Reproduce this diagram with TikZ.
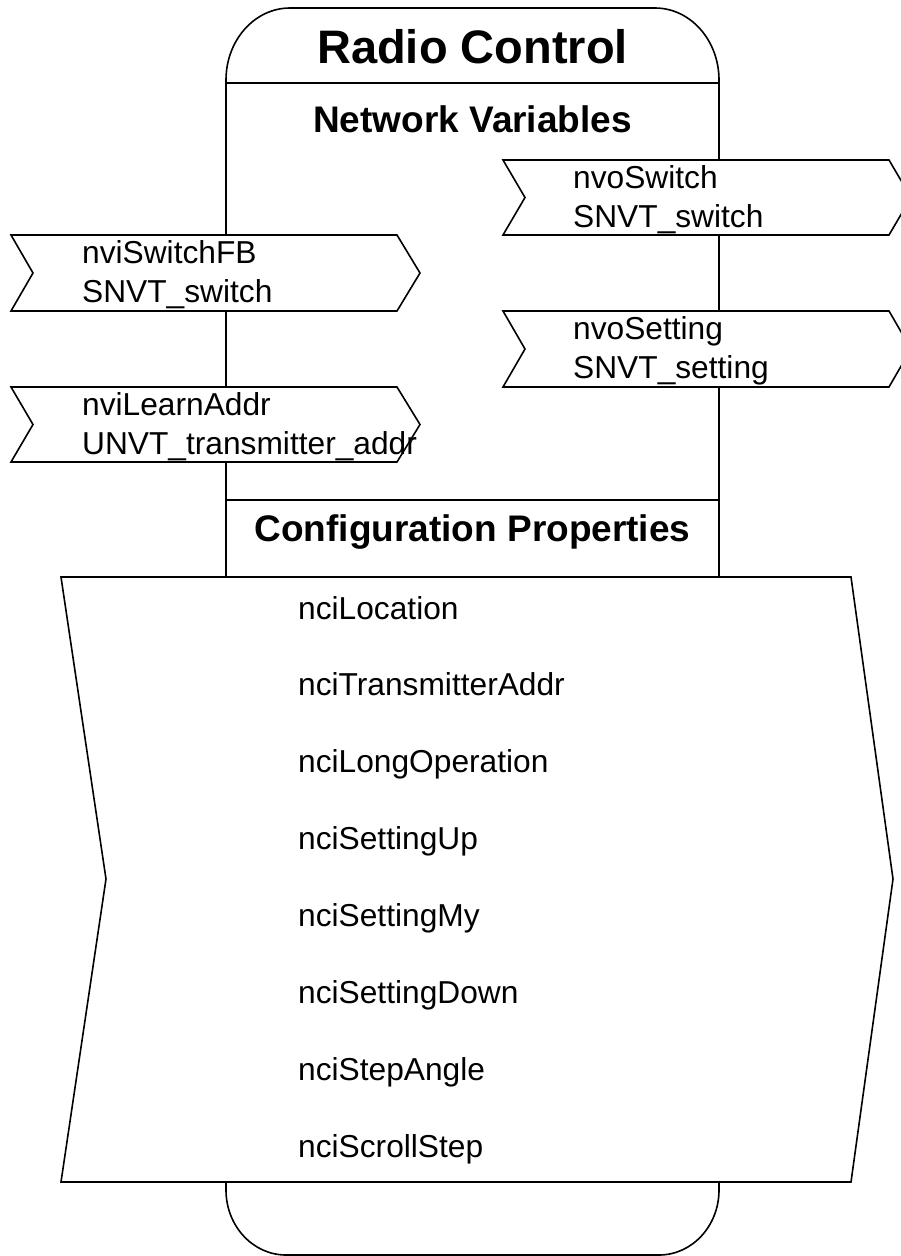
\documentclass[tikz,border=0pt]{standalone}
\usepackage{fontspec}
\setmainfont{Liberation Sans}
\usepackage{tikz}
\usetikzlibrary{positioning}

\tikzset{
  outline/.style={line width=1.6pt},
  nvshape/.style={outline,fill=white},
  title/.style={anchor=base,inner sep=0pt,font=\bfseries\fontsize{47}{56}\selectfont},
  header/.style={anchor=base,inner sep=0pt,font=\bfseries\fontsize{37}{44}\selectfont},
  nvlabel/.style={anchor=base west,align=left,inner sep=0pt,font=\fontsize{31.7}{39}\selectfont},
  cplabel/.style={anchor=base west,inner sep=0pt,font=\fontsize{31.7}{38}\selectfont}
}

\begin{document}
\begin{tikzpicture}[x=1pt,y=1pt]
\useasboundingbox (0,0) rectangle (901,-1256);
% block outline
\draw[outline] (226,-1190) -- (226,-80)
  arc[start angle=180,end angle=90,x radius=64,y radius=72] -- (655,-8)
  arc[start angle=90,end angle=0,x radius=64,y radius=72] -- (719,-1190)
  arc[start angle=0,end angle=-90,x radius=60,y radius=65] -- (286,-1255)
  arc[start angle=270,end angle=180,x radius=60,y radius=65] -- cycle;
\draw[outline] (226,-83) -- (719,-83);
\draw[outline] (226,-500) -- (719,-500);
\node[title] (radio) at (472.5,-63) {Radio Control};
\node[header] (nvhead) at (472.5,-132) {Network Variables};
\node[header] (cphead) at (472.5,-541) {Configuration Properties};

% inputs (base = last line)
\draw[nvshape] (11,-235) -- (397,-235) -- (420,-273) -- (397,-311) -- (11,-311) -- (33,-273) -- cycle;
\node[nvlabel] (nviSwitchFB) at (82,-302) {nviSwitchFB\\SNVT\_switch};
\draw[nvshape] (11,-387) -- (397,-387) -- (420,-424.5) -- (397,-462) -- (11,-462) -- (33,-424.5) -- cycle;
\node[nvlabel] (nviLearnAddr) at (82,-454) {nviLearnAddr\\UNVT\_transmitter\_addr};

% outputs
\draw[nvshape] (503,-160) -- (889,-160) -- (911,-197.5) -- (889,-235) -- (503,-235) -- (525,-197.5) -- cycle;
\node[nvlabel] (nvoSwitch) at (573,-227) {nvoSwitch\\SNVT\_switch};
\draw[nvshape] (503,-311) -- (889,-311) -- (911,-349) -- (889,-387) -- (503,-387) -- (525,-349) -- cycle;
\node[nvlabel] (nvoSetting) at (573,-378) {nvoSetting\\SNVT\_setting};

% configuration properties
\draw[nvshape] (61,-577) -- (851,-577) -- (893,-879) -- (851,-1182) -- (61,-1182) -- (106,-879) -- cycle;
\foreach \cp [count=\i from 0] in {nciLocation,nciTransmitterAddr,nciLongOperation,nciSettingUp,nciSettingMy,nciSettingDown,nciStepAngle,nciScrollStep}
  \node[cplabel] (\cp) at (298,{-619-76.86*\i}) {\cp};
\end{tikzpicture}
\end{document}
